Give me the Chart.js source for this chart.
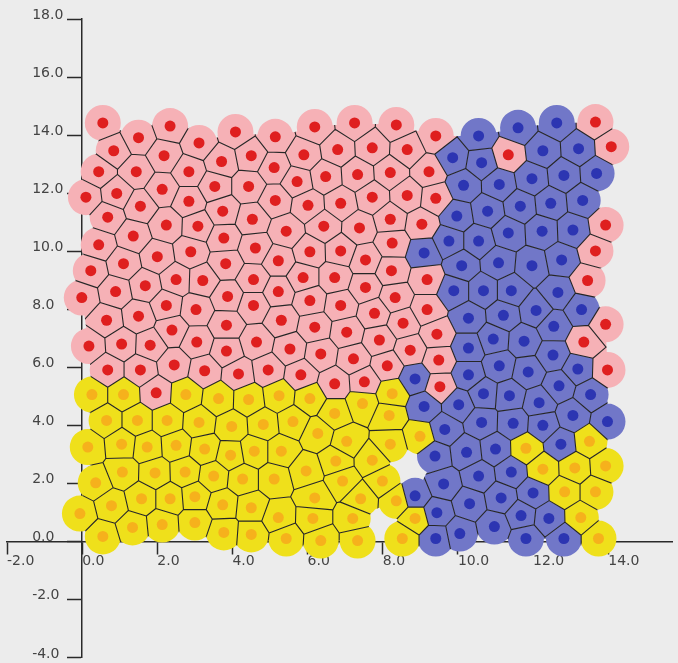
<!DOCTYPE html>
<html><head><meta charset="utf-8">
<script src="https://cdn.jsdelivr.net/npm/chart.js@4.4.0/dist/chart.umd.min.js"></script>
<style>html,body{margin:0;padding:0;background:#ececec;}#wrap{width:678px;height:663px;}</style>
</head><body><div id="wrap"><canvas id="c" width="678" height="663"></canvas></div>
<script>
// ---- data (site positions, data units) ----
const redSites = [
[0.55,14.42],[2.34,14.31],[4.08,14.11],[1.50,13.91],[3.11,13.73],[0.84,13.46],[2.18,13.29],[3.71,13.09],
[0.44,12.74],[1.44,12.74],[2.84,12.74],[3.53,12.23],[4.43,12.23],[2.13,12.13],[0.92,11.99],[0.10,11.86],
[1.55,11.55],[2.84,11.72],[3.74,11.38],[0.68,11.17],[2.24,10.90],[3.08,10.86],[1.36,10.52],[3.77,10.45],
[0.44,10.22],[2.00,9.81],[2.89,9.98],[1.10,9.57],[3.82,9.57],[0.23,9.33],[2.50,9.02],[3.21,8.99],
[1.68,8.81],[0.89,8.61],[3.87,8.44],[-0.01,8.40],[2.24,8.13],[3.03,7.99],[1.50,7.76],[0.65,7.62],
[3.84,7.45],[2.39,7.28],
[5.14,13.94],[6.19,14.28],[7.25,14.42],[8.36,14.35],[9.41,13.97],
[4.50,13.29],[5.90,13.32],[6.80,13.50],[7.72,13.56],[8.65,13.50],
[5.11,12.88],[6.48,12.57],[7.33,12.64],[8.20,12.71],[9.23,12.74],
[5.72,12.40],
[5.14,11.75],[6.01,11.58],[6.88,11.65],[7.72,11.86],[8.65,11.92],[9.41,11.82],
[4.53,11.10],[5.43,10.69],[6.43,10.86],[7.38,10.80],[8.20,11.10],[9.04,10.93],
[4.61,10.11],[6.06,9.98],[6.88,10.01],[8.25,10.28],[7.54,9.70],
[5.22,9.67],[8.23,9.33],
[4.56,9.02],[5.88,9.09],[6.72,9.09],[7.54,8.75],[9.18,9.02],
[5.22,8.61],[8.33,8.40],
[6.06,8.30],[6.88,8.13],[7.78,7.86],[9.18,7.99],
[4.56,8.13],[5.30,7.62],[6.19,7.38],[8.54,7.52],
[13.66,14.45],[14.08,13.60],[11.34,13.32],[13.93,10.90],[13.66,10.01],[13.45,8.99],[13.93,7.48],
[0.18,6.73],[1.05,6.80],[1.81,6.76],[3.05,6.87],[3.84,6.56],[4.64,6.87],[0.68,5.91],[1.55,5.91],
[2.45,6.08],[3.26,5.88],[4.16,5.77],[1.97,5.12],
[7.04,7.21],[5.53,6.63],[6.35,6.46],[7.22,6.29],[7.91,6.94],[8.73,6.59],[9.49,6.25],[4.95,5.91],
[5.82,5.74],[6.72,5.43],[7.51,5.50],[8.12,6.05],[9.52,5.33],[9.44,7.14],
[13.35,6.87],[13.98,5.91]
];
const blueSites = [
[10.55,13.97],[11.60,14.25],[12.63,14.42],[9.86,13.22],[10.63,13.05],[12.26,13.46],[13.21,13.53],
[10.15,12.27],[11.10,12.30],[11.97,12.50],[12.82,12.61],[13.69,12.68],
[10.79,11.38],[11.66,11.55],[12.47,11.65],[13.32,11.75],[9.97,11.21],
[11.34,10.63],[12.24,10.69],[13.06,10.73],[10.55,10.35],[9.76,10.35],
[10.10,9.50],[11.08,9.60],[11.97,9.50],[12.76,9.70],
[9.89,8.64],[10.68,8.64],[11.42,8.64],[12.66,8.58],[13.29,7.99],
[10.28,7.69],[11.21,7.79],[12.08,7.96],[12.55,7.41],
[9.10,9.94],
[8.86,5.60],[9.10,4.65],[9.65,3.86],[9.39,2.94],[9.62,1.98],[8.86,1.57],[9.44,0.99],[9.41,0.10],
[10.28,6.66],[10.94,6.97],[11.76,6.90],[12.53,6.42],[11.10,6.05],[11.87,5.84],[10.28,5.74],[13.19,5.94],
[10.68,5.09],[11.37,5.02],[12.16,4.78],[12.69,5.36],[13.53,5.06],[10.02,4.71],
[10.63,4.10],[11.47,4.07],[12.26,4.00],[13.06,4.34],[13.98,4.13],
[12.74,3.35],[10.23,3.07],[11.00,3.18],[10.55,2.25],[11.42,2.39],[12.00,1.67],
[10.31,1.30],[11.15,1.50],[11.68,0.89],[12.42,0.79],[10.05,0.27],[10.97,0.51],[11.81,0.10],[12.82,0.10]
];
const yellowSites = [
[0.26,5.06],[1.10,5.06],[2.76,5.06],[3.63,4.92],[4.43,4.89],
[0.65,4.17],[1.47,4.17],[2.26,4.17],[3.11,4.10],[3.98,3.96],
[0.15,3.25],[1.05,3.35],[1.73,3.25],[2.50,3.31],[3.26,3.18],[3.95,2.97],[4.58,3.11],
[1.07,2.39],[1.94,2.36],[2.74,2.39],[3.50,2.25],[4.27,2.15],[0.36,2.02],
[0.78,1.23],[1.58,1.47],[2.34,1.47],[3.00,1.54],[3.74,1.26],[4.50,1.16],[-0.06,0.96],
[1.34,0.48],[2.13,0.58],[3.00,0.65],[3.77,0.31],[0.55,0.17],[4.50,0.24],
[5.24,5.02],[6.06,4.92],[7.46,4.75],[8.25,5.09],[6.72,4.41],[4.82,4.03],[5.61,4.13],[6.27,3.72],
[7.04,3.45],[8.17,4.34],[8.99,3.62],[8.20,3.35],
[5.30,3.11],[6.75,2.77],[7.72,2.80],[5.96,2.43],[5.11,2.15],[6.93,2.08],[7.99,2.08],
[6.19,1.50],[7.41,1.47],[8.36,1.40],[5.22,0.82],[6.14,0.79],[7.20,0.79],[8.86,0.79],
[5.43,0.10],[6.35,0.03],[7.33,0.03],[8.52,0.10],
[11.81,3.21],[13.50,3.45],[12.26,2.49],[13.11,2.53],[13.93,2.60],[12.84,1.71],[13.66,1.71],[13.27,0.82],[13.74,0.10]
];
const xTickValues = [-2,0,2,4,6,8,10,12,14];
const yTickValues = [-4,-2,0,2,4,6,8,10,12,14,16,18];
const xLimits = [-2, 15.71];
const yLimits = [-4, 18];

// ---- rendering ----
const toPts = a => a.map(p => ({x: p[0], y: p[1]}));
const AXIS = '#2a2a2a';
const LABEL = '#444444';
const FONT = {family: "'DejaVu Sans', sans-serif", size: 14};

function clipPoly(poly, nx, ny, mx, my, tag) {
  const out = [];
  const n = poly.length;
  for (let k = 0; k < n; k++) {
    const a = poly[k], b = poly[(k + 1) % n];
    const da = (a.x - mx) * nx + (a.y - my) * ny;
    const db = (b.x - mx) * nx + (b.y - my) * ny;
    const ain = da <= 0, bin = db <= 0;
    if (ain) out.push({x: a.x, y: a.y, e: a.e});
    if (ain !== bin) {
      const t = da / (da - db);
      out.push({x: a.x + (b.x - a.x) * t, y: a.y + (b.y - a.y) * t, e: ain ? tag : a.e});
    }
  }
  return out;
}

const cellPlugin = {
  id: 'cells',
  beforeDraw(chart) {
    const c = chart.ctx;
    c.save(); c.fillStyle = '#ececec'; c.fillRect(0, 0, chart.width, chart.height); c.restore();
  },
  beforeDatasetsDraw(chart) {
    const c = chart.ctx, xs = chart.scales.x, ys = chart.scales.y;
    const sites = [];
    chart.data.datasets.forEach(ds => ds.data.forEach(p => sites.push({
      x: xs.getPixelForValue(p.x), y: ys.getPixelForValue(p.y), color: ds.cellColor})));
    const RB = 32, RM = 18, L = 52, N = 40;
    const d2 = (a, b) => (a.x - b.x) * (a.x - b.x) + (a.y - b.y) * (a.y - b.y);
    const polys = sites.map((s, i) => {
      let poly = [];
      for (let k = 0; k < N; k++) {
        const a = 2 * Math.PI * k / N;
        poly.push({x: s.x + RB * Math.cos(a), y: s.y + RB * Math.sin(a), e: -1});
      }
      sites.forEach((t, j) => {
        if (i === j || poly.length < 3) return;
        if (d2(s, t) > 4 * RB * RB) return;
        poly = clipPoly(poly, t.x - s.x, t.y - s.y, (s.x + t.x) / 2, (s.y + t.y) / 2, j);
      });
      return poly;
    });
    c.save();
    c.beginPath();
    sites.forEach(s => { c.moveTo(s.x + RM, s.y); c.arc(s.x, s.y, RM, 0, 2 * Math.PI, false); });
    const nb = sites.map((s, i) => {
      const r = [];
      sites.forEach((t, j) => { if (j > i && d2(s, t) < L * L) r.push(j); });
      return r;
    });
    nb.forEach((list, i) => {
      for (let u = 0; u < list.length; u++) for (let v = u + 1; v < list.length; v++) {
        const p = sites[i], q0 = sites[list[u]], r0 = sites[list[v]];
        if (d2(q0, r0) >= L * L) continue;
        let q = q0, r = r0;
        if ((q.x - p.x) * (r.y - p.y) - (q.y - p.y) * (r.x - p.x) < 0) { q = r0; r = q0; }
        c.moveTo(p.x, p.y); c.lineTo(q.x, q.y); c.lineTo(r.x, r.y); c.closePath();
      }
    });
    c.clip();
    polys.forEach((poly, i) => {
      if (poly.length < 3) return;
      c.beginPath();
      poly.forEach((p, k) => k ? c.lineTo(p.x, p.y) : c.moveTo(p.x, p.y));
      c.closePath();
      c.fillStyle = sites[i].color;
      c.fill();
    });
    c.strokeStyle = '#262626';
    c.lineWidth = 1.1;
    c.beginPath();
    polys.forEach((poly, i) => {
      const n = poly.length;
      for (let k = 0; k < n; k++) {
        const a = poly[k], b = poly[(k + 1) % n];
        if (a.e > i) { c.moveTo(a.x, a.y); c.lineTo(b.x, b.y); }
      }
    });
    c.stroke();
    c.restore();
  },
  afterDraw(chart) {
    // y tick labels: left-aligned in a column left of the axis, sitting on their tick
    const c = chart.ctx, xs = chart.scales.x, ys = chart.scales.y;
    const x0 = xs.getPixelForValue(0) - 50;
    c.save();
    c.font = "14px 'DejaVu Sans', sans-serif";
    c.fillStyle = LABEL;
    c.textAlign = 'left';
    c.textBaseline = 'alphabetic';
    ys.ticks.forEach(t => c.fillText(Number(t.value).toFixed(1), x0, ys.getPixelForValue(t.value)));
    c.restore();
  }
};

function dataset(label, sites, dot, cell) {
  return {label, data: toPts(sites), cellColor: cell, pointRadius: 5.5, pointHoverRadius: 5.5,
    pointBackgroundColor: dot, pointBorderColor: dot, pointBorderWidth: 0, showLine: false};
}

new Chart(document.getElementById('c'), {
  type: 'scatter',
  data: {datasets: [
    dataset('red', redSites, '#df1f1f', '#f6b1b6'),
    dataset('blue', blueSites, '#2c35b2', '#7177c8'),
    dataset('yellow', yellowSites, '#f6b11c', '#efe01b')
  ]},
  options: {
    responsive: false, animation: false, devicePixelRatio: 1,
    layout: {padding: {left: 7, top: 19, right: 0, bottom: 0}},
    plugins: {legend: {display: false}, tooltip: {enabled: false}},
    events: [],
    scales: {
      x: {
        type: 'linear', min: xLimits[0], max: xLimits[1], position: {y: 0}, z: 1,
        afterFit(s) { s.height = 0; },
        afterBuildTicks(s) { s.ticks = xTickValues.map(v => ({value: v})); },
        grid: {drawOnChartArea: false, drawTicks: true, tickLength: 12, tickColor: AXIS, tickWidth: 1.5},
        border: {display: true, color: AXIS, width: 1.5},
        ticks: {align: 'start', padding: 0, color: LABEL, font: FONT, autoSkip: false, maxRotation: 0,
          callback: v => Number(v).toFixed(1)}
      },
      y: {
        type: 'linear', min: yLimits[0], max: yLimits[1], position: {x: 0}, z: 1,
        afterFit(s) { s.width = 0; },
        afterBuildTicks(s) { s.ticks = yTickValues.map(v => ({value: v})); },
        grid: {drawOnChartArea: false, drawTicks: true, tickLength: 14, tickColor: AXIS, tickWidth: 1.5},
        border: {display: true, color: AXIS, width: 1.5},
        ticks: {display: false}
      }
    }
  },
  plugins: [cellPlugin]
});
</script></body></html>
